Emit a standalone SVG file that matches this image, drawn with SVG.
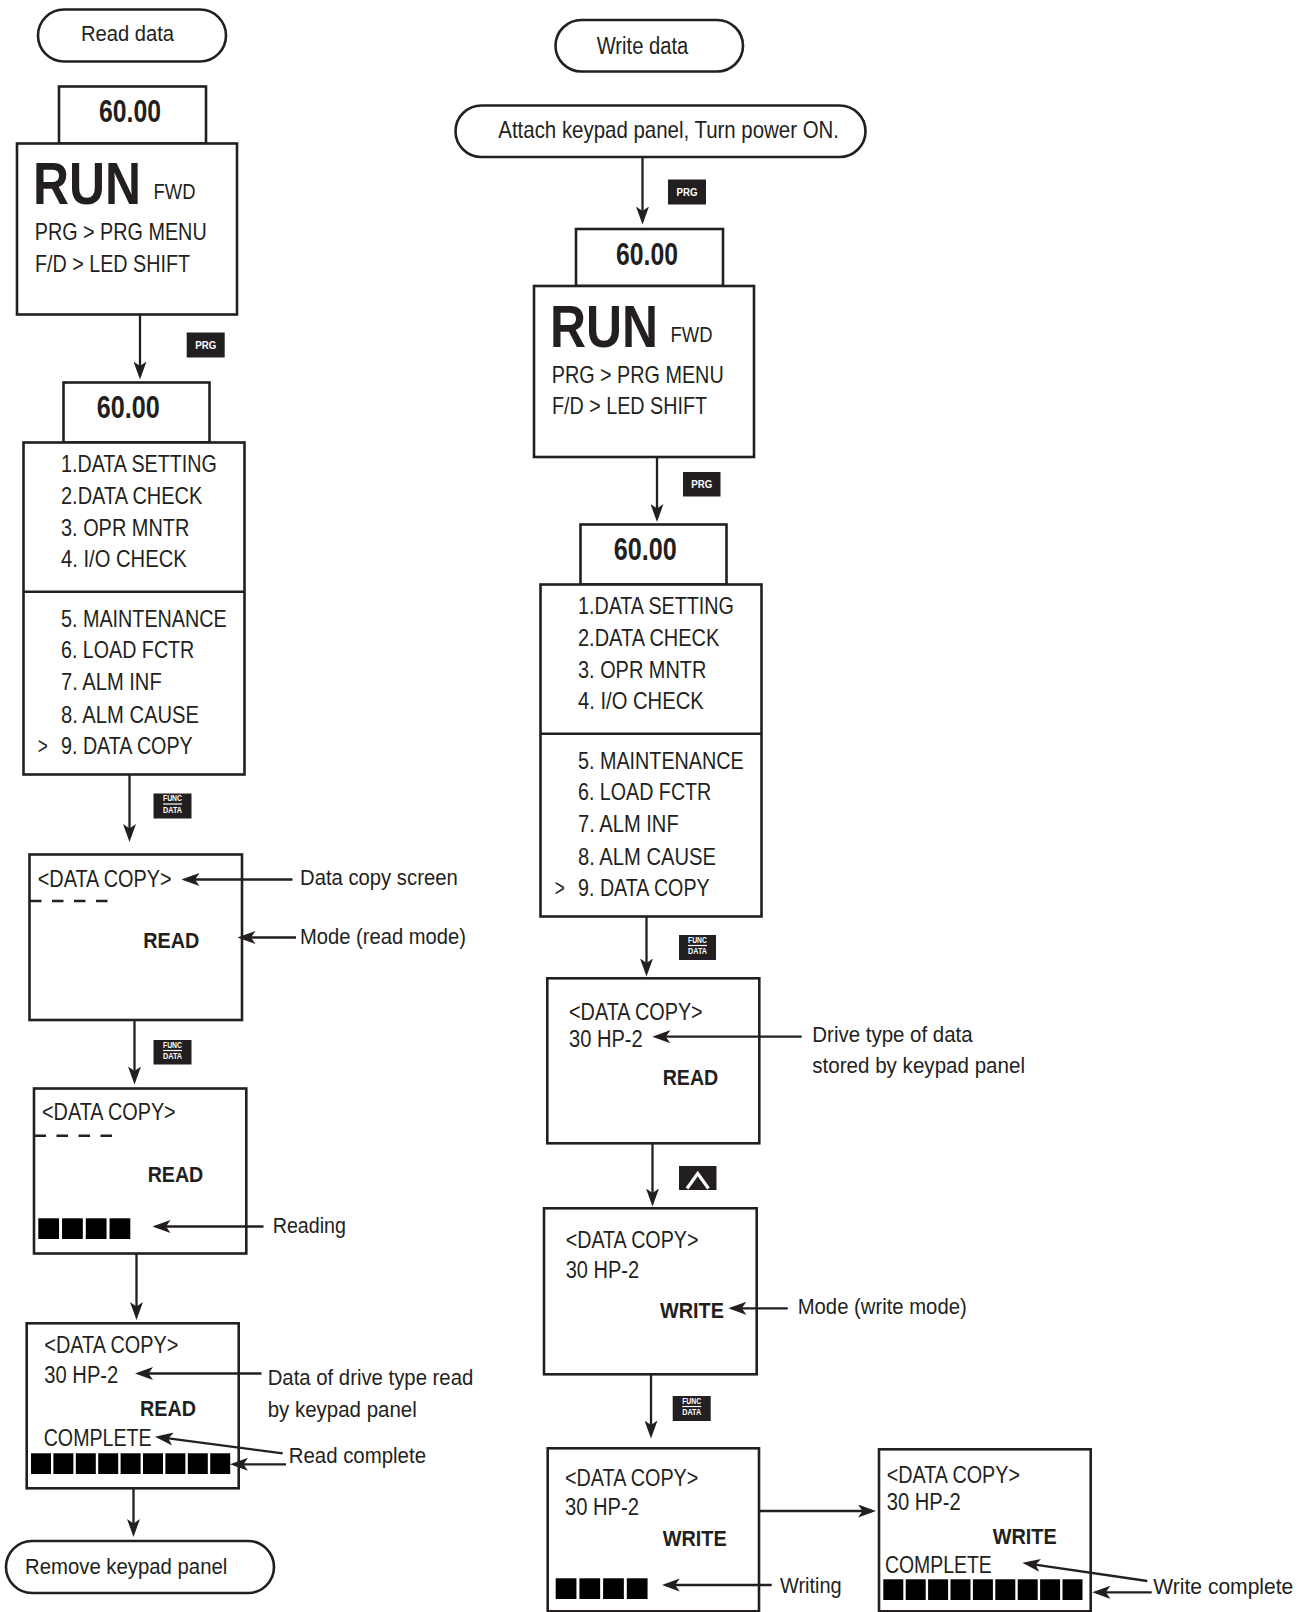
<svg xmlns="http://www.w3.org/2000/svg" width="1310" height="1612" viewBox="0 0 1310 1612">
<defs>
<style>
.t{font-family:"Liberation Sans Narrow","Liberation Sans",Arial,sans-serif;fill:#231f20;}
.f22{font-size:22px}.f23{font-size:23px}.f24{font-size:24px}
.b{font-weight:bold}
.box{fill:#fff;stroke:#231f20;stroke-width:2.6}
.pill{fill:#fff;stroke:#231f20;stroke-width:2.6}
.div{stroke:#231f20;stroke-width:2.6}
.dash{stroke:#231f20;stroke-width:2.5;stroke-dasharray:11.5 10.5}
.sq{fill:#000}
.key{fill:#231f20}
.kt{font-family:"Liberation Sans Narrow","Liberation Sans",Arial,sans-serif;fill:#fff;font-weight:bold;text-anchor:middle}
.kl{stroke:#fff;stroke-width:1.2}
.c{fill:none;stroke:#231f20;stroke-width:2.3;marker-end:url(#ah)}
</style>
<marker id="ah" markerUnits="userSpaceOnUse" markerWidth="18" markerHeight="13" refX="14" refY="6.5" orient="auto" viewBox="0 0 18 13">
<path d="M0,0 L18,6.5 L0,13 L4.5,6.5 Z" fill="#231f20"/>
</marker>
</defs>
<rect width="1310" height="1612" fill="#fff"/>

<!-- ===== LEFT COLUMN ===== -->
<g id="read-data">
<rect class="pill" x="38" y="9.5" width="188" height="52" rx="26"/>
<text class="t f22" x="81" y="41" textLength="93" lengthAdjust="spacingAndGlyphs">Read data</text>
</g>

<g id="l-run">
<rect class="box" x="59" y="86.5" width="147" height="57"/>
<text class="t b" font-size="32" x="99" y="122" textLength="62" lengthAdjust="spacingAndGlyphs">60.00</text>
<rect class="box" x="17" y="143.5" width="220" height="171"/>
<text class="t b" font-size="48" transform="matrix(1,0,0,1.25,33,204)" x="0" y="0" textLength="108" lengthAdjust="spacingAndGlyphs">RUN</text>
<text class="t f22" x="153.5" y="199" textLength="42" lengthAdjust="spacingAndGlyphs">FWD</text>
<text class="t f24" x="34.7" y="240" textLength="172" lengthAdjust="spacingAndGlyphs">PRG &gt; PRG MENU</text>
<text class="t f24" x="35" y="271.7" textLength="155" lengthAdjust="spacingAndGlyphs">F/D &gt; LED SHIFT</text>
</g>

<g id="l-key-prg">
<rect class="key" x="186.7" y="332.5" width="38" height="25"/>
<text class="kt" font-size="11" x="205.7" y="348.8" textLength="21" lengthAdjust="spacingAndGlyphs">PRG</text>
</g>

<g id="l-menu">
<rect class="box" x="63.5" y="382.5" width="146" height="60"/>
<text class="t b" font-size="32" x="96.7" y="418" textLength="63" lengthAdjust="spacingAndGlyphs">60.00</text>
<rect class="box" x="23.5" y="442.5" width="221" height="332"/>
<line class="div" x1="23.5" y1="591.7" x2="244.5" y2="591.7"/>
<text class="t f24" x="61" y="472.3" textLength="155.7" lengthAdjust="spacingAndGlyphs">1.DATA SETTING</text>
<text class="t f24" x="61" y="504" textLength="141.3" lengthAdjust="spacingAndGlyphs">2.DATA CHECK</text>
<text class="t f24" x="61" y="535.7" textLength="128.3" lengthAdjust="spacingAndGlyphs">3. OPR MNTR</text>
<text class="t f24" x="61" y="567.3" textLength="125.7" lengthAdjust="spacingAndGlyphs">4. I/O CHECK</text>
<text class="t f24" x="61" y="626.7" textLength="165.7" lengthAdjust="spacingAndGlyphs">5. MAINTENANCE</text>
<text class="t f24" x="61" y="658.3" textLength="133.3" lengthAdjust="spacingAndGlyphs">6. LOAD FCTR</text>
<text class="t f24" x="61" y="690" textLength="100.7" lengthAdjust="spacingAndGlyphs">7. ALM INF</text>
<text class="t f24" x="61" y="722.7" textLength="138" lengthAdjust="spacingAndGlyphs">8. ALM CAUSE</text>
<text class="t f24" x="37.7" y="754.3" textLength="10" lengthAdjust="spacingAndGlyphs">&gt;</text>
<text class="t f24" x="61" y="754.3" textLength="131.7" lengthAdjust="spacingAndGlyphs">9. DATA COPY</text>
</g>

<g id="l-key-fd1">
<rect class="key" x="153.5" y="793.5" width="38" height="25"/>
<text class="kt" font-size="8.5" x="172.5" y="801.3" textLength="19" lengthAdjust="spacingAndGlyphs">FUNC</text>
<line class="kl" x1="163" y1="804" x2="182" y2="804"/>
<text class="kt" font-size="8.5" x="172.5" y="812.5" textLength="19" lengthAdjust="spacingAndGlyphs">DATA</text>
</g>

<g id="l-copy1">
<rect class="box" x="29.5" y="854.5" width="212.5" height="165.5"/>
<text class="t f23" x="37.7" y="886.7" textLength="134" lengthAdjust="spacingAndGlyphs">&lt;DATA COPY&gt;</text>
<line class="dash" x1="30" y1="901" x2="108" y2="901"/>
<text class="t f22 b" x="143.3" y="948.3" textLength="56" lengthAdjust="spacingAndGlyphs">READ</text>
</g>
<g id="l-label-screen">
<text class="t f22" x="300" y="885" textLength="157.7" lengthAdjust="spacingAndGlyphs">Data copy screen</text>
</g>
<g id="l-label-mode">
<text class="t f22" x="300" y="944" textLength="166" lengthAdjust="spacingAndGlyphs">Mode (read mode)</text>
</g>

<g id="l-key-fd2">
<rect class="key" x="153.5" y="1040" width="38" height="24.5"/>
<text class="kt" font-size="8.5" x="172.5" y="1047.8" textLength="19" lengthAdjust="spacingAndGlyphs">FUNC</text>
<line class="kl" x1="163" y1="1050.5" x2="182" y2="1050.5"/>
<text class="kt" font-size="8.5" x="172.5" y="1059" textLength="19" lengthAdjust="spacingAndGlyphs">DATA</text>
</g>

<g id="l-copy2">
<rect class="box" x="34" y="1088.5" width="212.3" height="165"/>
<text class="t f23" x="42" y="1120" textLength="133.7" lengthAdjust="spacingAndGlyphs">&lt;DATA COPY&gt;</text>
<line class="dash" x1="34.5" y1="1135.7" x2="112" y2="1135.7"/>
<text class="t f22 b" x="147.7" y="1182.3" textLength="55.6" lengthAdjust="spacingAndGlyphs">READ</text>
<rect class="sq" x="38.3" y="1218.3" width="20.75" height="20.7"/>
<rect class="sq" x="62.05" y="1218.3" width="20.75" height="20.7"/>
<rect class="sq" x="85.8" y="1218.3" width="20.75" height="20.7"/>
<rect class="sq" x="109.55" y="1218.3" width="20.75" height="20.7"/>
</g>
<g id="l-label-reading">
<text class="t f22" x="272.7" y="1233.3" textLength="73.3" lengthAdjust="spacingAndGlyphs">Reading</text>
</g>

<g id="l-copy3">
<rect class="box" x="26.7" y="1323.3" width="212" height="165"/>
<text class="t f23" x="44.3" y="1353.3" textLength="134" lengthAdjust="spacingAndGlyphs">&lt;DATA COPY&gt;</text>
<text class="t f23" x="44.3" y="1382.7" textLength="74" lengthAdjust="spacingAndGlyphs">30 HP-2</text>
<text class="t f22 b" x="140" y="1416" textLength="56" lengthAdjust="spacingAndGlyphs">READ</text>
<text class="t f23" x="43.7" y="1446" textLength="108" lengthAdjust="spacingAndGlyphs">COMPLETE</text>
<rect class="sq" x="31" y="1453.3" width="20" height="20.7"/>
<rect class="sq" x="53.4" y="1453.3" width="20" height="20.7"/>
<rect class="sq" x="75.8" y="1453.3" width="20" height="20.7"/>
<rect class="sq" x="98.2" y="1453.3" width="20" height="20.7"/>
<rect class="sq" x="120.6" y="1453.3" width="20" height="20.7"/>
<rect class="sq" x="143" y="1453.3" width="20" height="20.7"/>
<rect class="sq" x="165.4" y="1453.3" width="20" height="20.7"/>
<rect class="sq" x="187.8" y="1453.3" width="20" height="20.7"/>
<rect class="sq" x="210.2" y="1453.3" width="20" height="20.7"/>
</g>
<g id="l-label-drive">
<text class="t f22" x="267.7" y="1385" textLength="205.6" lengthAdjust="spacingAndGlyphs">Data of drive type read</text>
<text class="t f22" x="267.7" y="1416.7" textLength="149" lengthAdjust="spacingAndGlyphs">by keypad panel</text>
</g>
<g id="l-label-complete">
<text class="t f22" x="288.7" y="1463.3" textLength="137.3" lengthAdjust="spacingAndGlyphs">Read complete</text>
</g>

<g id="remove-panel">
<rect class="pill" x="6" y="1541" width="268" height="52" rx="26"/>
<text class="t f22" x="25" y="1574" textLength="202.3" lengthAdjust="spacingAndGlyphs">Remove keypad panel</text>
</g>

<!-- ===== RIGHT COLUMN ===== -->
<g id="write-data">
<rect class="pill" x="555.5" y="20" width="187.5" height="51.5" rx="26"/>
<text class="t f23" x="596.7" y="54.3" textLength="91.6" lengthAdjust="spacingAndGlyphs">Write data</text>
</g>

<g id="attach-panel">
<rect class="pill" x="455.5" y="105.5" width="410" height="51.5" rx="26"/>
<text class="t f24" x="498.3" y="137.5" textLength="340.7" lengthAdjust="spacingAndGlyphs">Attach keypad panel, Turn power ON.</text>
</g>

<g id="r-key-prg1">
<rect class="key" x="668" y="179.5" width="38" height="25"/>
<text class="kt" font-size="11" x="687" y="195.8" textLength="21" lengthAdjust="spacingAndGlyphs">PRG</text>
</g>

<g id="r-run">
<rect class="box" x="576" y="229" width="147" height="57"/>
<text class="t b" font-size="32" x="616" y="264.5" textLength="62" lengthAdjust="spacingAndGlyphs">60.00</text>
<rect class="box" x="534" y="286" width="220" height="171"/>
<text class="t b" font-size="48" transform="matrix(1,0,0,1.25,550,346.5)" x="0" y="0" textLength="108" lengthAdjust="spacingAndGlyphs">RUN</text>
<text class="t f22" x="670.5" y="341.5" textLength="42" lengthAdjust="spacingAndGlyphs">FWD</text>
<text class="t f24" x="551.7" y="382.5" textLength="172" lengthAdjust="spacingAndGlyphs">PRG &gt; PRG MENU</text>
<text class="t f24" x="552" y="414.2" textLength="155" lengthAdjust="spacingAndGlyphs">F/D &gt; LED SHIFT</text>
</g>

<g id="r-key-prg2">
<rect class="key" x="683" y="472" width="37.5" height="24.5"/>
<text class="kt" font-size="11" x="701.7" y="488.2" textLength="21" lengthAdjust="spacingAndGlyphs">PRG</text>
</g>

<g id="r-menu" transform="translate(517,142)">
<rect class="box" x="63.5" y="382.5" width="146" height="60"/>
<text class="t b" font-size="32" x="96.7" y="418" textLength="63" lengthAdjust="spacingAndGlyphs">60.00</text>
<rect class="box" x="23.5" y="442.5" width="221" height="332"/>
<line class="div" x1="23.5" y1="591.7" x2="244.5" y2="591.7"/>
<text class="t f24" x="61" y="472.3" textLength="155.7" lengthAdjust="spacingAndGlyphs">1.DATA SETTING</text>
<text class="t f24" x="61" y="504" textLength="141.3" lengthAdjust="spacingAndGlyphs">2.DATA CHECK</text>
<text class="t f24" x="61" y="535.7" textLength="128.3" lengthAdjust="spacingAndGlyphs">3. OPR MNTR</text>
<text class="t f24" x="61" y="567.3" textLength="125.7" lengthAdjust="spacingAndGlyphs">4. I/O CHECK</text>
<text class="t f24" x="61" y="626.7" textLength="165.7" lengthAdjust="spacingAndGlyphs">5. MAINTENANCE</text>
<text class="t f24" x="61" y="658.3" textLength="133.3" lengthAdjust="spacingAndGlyphs">6. LOAD FCTR</text>
<text class="t f24" x="61" y="690" textLength="100.7" lengthAdjust="spacingAndGlyphs">7. ALM INF</text>
<text class="t f24" x="61" y="722.7" textLength="138" lengthAdjust="spacingAndGlyphs">8. ALM CAUSE</text>
<text class="t f24" x="37.7" y="754.3" textLength="10" lengthAdjust="spacingAndGlyphs">&gt;</text>
<text class="t f24" x="61" y="754.3" textLength="131.7" lengthAdjust="spacingAndGlyphs">9. DATA COPY</text>
</g>

<g id="r-key-fd1">
<rect class="key" x="679" y="935" width="37" height="25"/>
<text class="kt" font-size="8.5" x="697.5" y="942.8" textLength="19" lengthAdjust="spacingAndGlyphs">FUNC</text>
<line class="kl" x1="688" y1="945.5" x2="707" y2="945.5"/>
<text class="kt" font-size="8.5" x="697.5" y="954" textLength="19" lengthAdjust="spacingAndGlyphs">DATA</text>
</g>

<g id="r-copy-read">
<rect class="box" x="547.3" y="978.3" width="212" height="165"/>
<text class="t f23" x="569" y="1020" textLength="133.7" lengthAdjust="spacingAndGlyphs">&lt;DATA COPY&gt;</text>
<text class="t f23" x="569" y="1047.3" textLength="73.7" lengthAdjust="spacingAndGlyphs">30 HP-2</text>
<text class="t f22 b" x="662.7" y="1085" textLength="55.6" lengthAdjust="spacingAndGlyphs">READ</text>
</g>
<g id="r-label-drive">
<text class="t f22" x="812.3" y="1041.7" textLength="160.4" lengthAdjust="spacingAndGlyphs">Drive type of data</text>
<text class="t f22" x="812.3" y="1073.3" textLength="212.7" lengthAdjust="spacingAndGlyphs">stored by keypad panel</text>
</g>

<g id="r-key-up">
<rect class="key" x="679" y="1166" width="37.5" height="24"/>
<polyline points="687,1188.5 697.7,1173.5 708.5,1188.5" fill="none" stroke="#fff" stroke-width="3.2"/>
</g>

<g id="r-copy-write">
<rect class="box" x="544" y="1208.3" width="212.7" height="166"/>
<text class="t f23" x="565.7" y="1248.3" textLength="132.7" lengthAdjust="spacingAndGlyphs">&lt;DATA COPY&gt;</text>
<text class="t f23" x="565.7" y="1277.7" textLength="73.3" lengthAdjust="spacingAndGlyphs">30 HP-2</text>
<text class="t f22 b" x="660" y="1317.7" textLength="64" lengthAdjust="spacingAndGlyphs">WRITE</text>
</g>
<g id="r-label-mode">
<text class="t f22" x="797.7" y="1314" textLength="169" lengthAdjust="spacingAndGlyphs">Mode (write mode)</text>
</g>

<g id="r-key-fd2">
<rect class="key" x="672.7" y="1396" width="38" height="25"/>
<text class="kt" font-size="8.5" x="691.7" y="1403.8" textLength="19" lengthAdjust="spacingAndGlyphs">FUNC</text>
<line class="kl" x1="682.2" y1="1406.5" x2="701.2" y2="1406.5"/>
<text class="kt" font-size="8.5" x="691.7" y="1415" textLength="19" lengthAdjust="spacingAndGlyphs">DATA</text>
</g>

<g id="r-copy-writing">
<rect class="box" x="547.7" y="1448.3" width="211.3" height="163"/>
<text class="t f23" x="565" y="1486" textLength="133.3" lengthAdjust="spacingAndGlyphs">&lt;DATA COPY&gt;</text>
<text class="t f23" x="565" y="1515" textLength="74" lengthAdjust="spacingAndGlyphs">30 HP-2</text>
<text class="t f22 b" x="662.7" y="1545.7" textLength="64" lengthAdjust="spacingAndGlyphs">WRITE</text>
<rect class="sq" x="555.7" y="1578.3" width="20.75" height="20.7"/>
<rect class="sq" x="579.4" y="1578.3" width="20.75" height="20.7"/>
<rect class="sq" x="603.1" y="1578.3" width="20.75" height="20.7"/>
<rect class="sq" x="626.8" y="1578.3" width="20.75" height="20.7"/>
</g>
<g id="r-label-writing">
<text class="t f22" x="780" y="1593.3" textLength="61.7" lengthAdjust="spacingAndGlyphs">Writing</text>
</g>

<g id="r-copy-complete">
<rect class="box" x="879" y="1449.3" width="211.7" height="162"/>
<text class="t f23" x="886.7" y="1482.7" textLength="133.3" lengthAdjust="spacingAndGlyphs">&lt;DATA COPY&gt;</text>
<text class="t f23" x="886.7" y="1510" textLength="74" lengthAdjust="spacingAndGlyphs">30 HP-2</text>
<text class="t f22 b" x="992.7" y="1544" textLength="64" lengthAdjust="spacingAndGlyphs">WRITE</text>
<text class="t f23" x="885" y="1573.3" textLength="106.7" lengthAdjust="spacingAndGlyphs">COMPLETE</text>
<rect class="sq" x="883.3" y="1579.3" width="20" height="20.7"/>
<rect class="sq" x="905.7" y="1579.3" width="20" height="20.7"/>
<rect class="sq" x="928.1" y="1579.3" width="20" height="20.7"/>
<rect class="sq" x="950.5" y="1579.3" width="20" height="20.7"/>
<rect class="sq" x="972.9" y="1579.3" width="20" height="20.7"/>
<rect class="sq" x="995.3" y="1579.3" width="20" height="20.7"/>
<rect class="sq" x="1017.7" y="1579.3" width="20" height="20.7"/>
<rect class="sq" x="1040.1" y="1579.3" width="20" height="20.7"/>
<rect class="sq" x="1062.5" y="1579.3" width="20" height="20.7"/>
</g>
<g id="r-label-complete">
<text class="t f22" x="1153.3" y="1594" textLength="140" lengthAdjust="spacingAndGlyphs">Write complete</text>
</g>

<!-- ===== CONNECTORS ===== -->
<g id="connectors">
<line class="c" x1="140" y1="314.5" x2="140" y2="375.5"/>
<line class="c" x1="129.5" y1="774.5" x2="129.5" y2="838"/>
<line class="c" x1="134.5" y1="1020" x2="134.5" y2="1080.5"/>
<line class="c" x1="136.5" y1="1253.5" x2="136.5" y2="1316"/>
<line class="c" x1="133.5" y1="1488.5" x2="133.5" y2="1533"/>
<line class="c" x1="292.5" y1="879.5" x2="185.5" y2="879.5"/>
<line class="c" x1="296" y1="937.5" x2="241.5" y2="937.5"/>
<line class="c" x1="263.5" y1="1226.5" x2="156.5" y2="1226.5"/>
<line class="c" x1="261.5" y1="1373.5" x2="139" y2="1373.5"/>
<line class="c" x1="282.7" y1="1453.3" x2="159" y2="1437.2"/>
<line class="c" x1="286" y1="1464.3" x2="234" y2="1464.3"/>

<line class="c" x1="642.5" y1="157" x2="642.5" y2="220.5"/>
<line class="c" x1="657" y1="457" x2="657" y2="518"/>
<line class="c" x1="646.5" y1="916.5" x2="646.5" y2="972.5"/>
<line class="c" x1="652.5" y1="1143.5" x2="652.5" y2="1202.5"/>
<line class="c" x1="651" y1="1374.5" x2="651" y2="1434.5"/>
<line class="c" x1="759" y1="1511" x2="872" y2="1511"/>
<line class="c" x1="801.7" y1="1036.7" x2="656.3" y2="1036.7"/>
<line class="c" x1="787.7" y1="1308.3" x2="732.3" y2="1308.3"/>
<line class="c" x1="771.7" y1="1585" x2="665.7" y2="1585"/>
<line class="c" x1="1147.3" y1="1581" x2="1026.3" y2="1563.3"/>
<line class="c" x1="1151.7" y1="1592.3" x2="1096.3" y2="1592.3"/>
</g>
</svg>
